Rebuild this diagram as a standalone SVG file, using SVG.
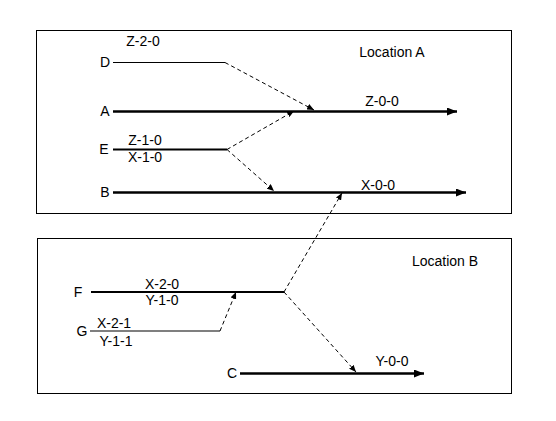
<svg xmlns="http://www.w3.org/2000/svg" width="556" height="421" viewBox="0 0 556 421">
<defs>
<style>
text{font-family:"Liberation Sans",Arial,sans-serif;font-size:14px;fill:#000}
.box{fill:#fff;stroke:#000;stroke-width:1}
.thin{stroke:#000;stroke-width:1.2;fill:none}
.mid{stroke:#000;stroke-width:2;fill:none}
.thick{stroke:#000;stroke-width:2.5;fill:none}
.dash{stroke:#000;stroke-width:1;stroke-dasharray:4,3;fill:none}
.c{text-anchor:middle}
</style>
<marker id="big" viewBox="0 0 10 8" refX="10" refY="4" markerWidth="10" markerHeight="8" markerUnits="userSpaceOnUse" orient="auto"><path d="M0,0 L10,4 L0,8 z" fill="#000"/></marker>
<marker id="sm" viewBox="0 0 7 6" refX="7" refY="3" markerWidth="7" markerHeight="6" markerUnits="userSpaceOnUse" orient="auto"><path d="M0,0 L7,3 L0,6 z" fill="#000"/></marker>
</defs>
<rect fill="#fff" width="556" height="421"/>
<g id="locationA">
<rect class="box" x="36.5" y="30.5" width="475" height="183"/>
<text x="392" y="57" class="c">Location A</text>
</g>
<g id="locationB">
<rect class="box" x="37.5" y="238.5" width="474" height="155"/>
<text x="445" y="266" class="c">Location B</text>
</g>
<g id="D">
<text x="105" y="67" class="c">D</text>
<line class="thin" x1="113" y1="62.5" x2="225" y2="62.5"/>
<text x="143" y="46" class="c">Z-2-0</text>
</g>
<g id="A">
<text x="105" y="116" class="c">A</text>
<line class="thick" x1="113" y1="111.5" x2="457" y2="111.5" marker-end="url(#big)"/>
<text x="382" y="106" class="c">Z-0-0</text>
</g>
<g id="E">
<text x="104" y="154" class="c">E</text>
<line class="mid" x1="113" y1="149.5" x2="227" y2="149.5"/>
<text x="145" y="145" class="c">Z-1-0</text>
<text x="145" y="162" class="c">X-1-0</text>
</g>
<g id="B">
<text x="105" y="197" class="c">B</text>
<line class="thick" x1="113" y1="192.5" x2="466" y2="192.5" marker-end="url(#big)"/>
<text x="378" y="190" class="c">X-0-0</text>
</g>
<g id="F">
<text x="78" y="297" class="c">F</text>
<line class="mid" x1="91" y1="292" x2="284" y2="292"/>
<text x="162" y="289" class="c">X-2-0</text>
<text x="162" y="305" class="c">Y-1-0</text>
</g>
<g id="G">
<text x="82" y="336" class="c">G</text>
<line class="thin" x1="90" y1="331" x2="220" y2="331"/>
<text x="114" y="328" class="c">X-2-1</text>
<text x="116" y="346" class="c">Y-1-1</text>
</g>
<g id="C">
<text x="232" y="378" class="c">C</text>
<line class="thick" x1="240" y1="373.5" x2="424" y2="373.5" marker-end="url(#big)"/>
<text x="392" y="366" class="c">Y-0-0</text>
</g>
<g id="connectors">
<line class="dash" x1="225" y1="62.5" x2="314" y2="110" marker-end="url(#sm)"/>
<line class="dash" x1="227" y1="149.5" x2="294" y2="111" marker-end="url(#sm)"/>
<line class="dash" x1="227" y1="149.5" x2="274" y2="191" marker-end="url(#sm)"/>
<line class="dash" x1="284" y1="292" x2="342" y2="193" marker-end="url(#sm)"/>
<line class="dash" x1="284" y1="292" x2="356" y2="372" marker-end="url(#sm)"/>
<line class="dash" x1="220" y1="331" x2="236" y2="292" marker-end="url(#sm)"/>
</g>
</svg>
